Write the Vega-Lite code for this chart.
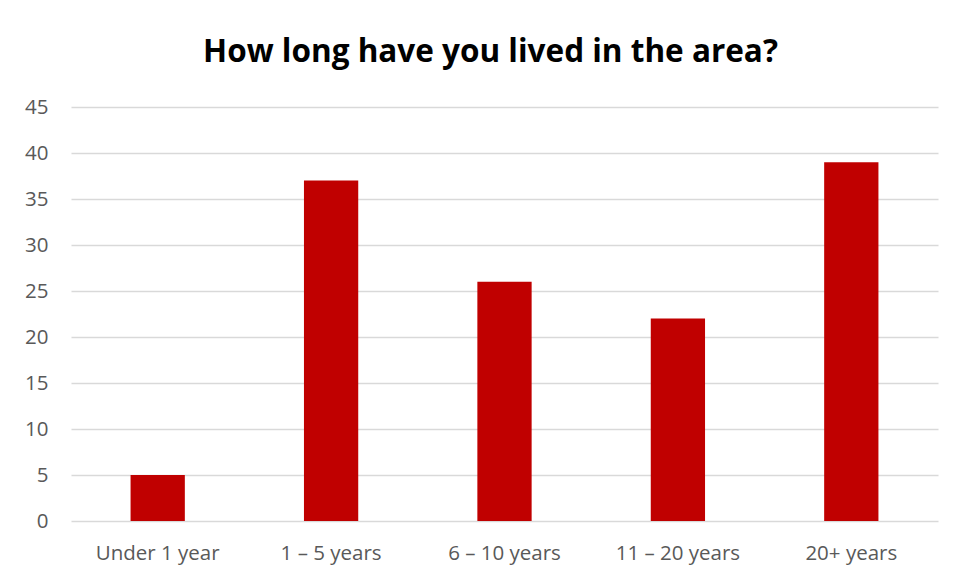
{
  "$schema": "https://vega.github.io/schema/vega-lite/v6.json",
  "width": 867,
  "height": 414,
  "autosize": "none",
  "padding": {"left": 71, "top": 107, "right": 18, "bottom": 58},
  "background": "white",
  "title": {
    "text": "How long have you lived in the area?",
    "font": "Open Sans",
    "fontSize": 31.5,
    "fontWeight": "bold",
    "color": "#000000",
    "anchor": "middle",
    "dx": -14,
    "offset": 29
  },
  "data": {
    "values": [
      {"category": "Under 1 year", "count": 5},
      {"category": "1 – 5 years", "count": 37},
      {"category": "6 – 10 years", "count": 26},
      {"category": "11 – 20 years", "count": 22},
      {"category": "20+ years", "count": 39}
    ]
  },
  "mark": {"type": "bar", "color": "#c00000"},
  "encoding": {
    "x": {
      "field": "category",
      "type": "nominal",
      "sort": null,
      "scale": {"paddingInner": 0.687, "paddingOuter": 0.3435},
      "axis": {
        "title": null,
        "labelAngle": 0,
        "labelFont": "Open Sans",
        "labelFontSize": 20.5,
        "labelColor": "#595959",
        "labelPadding": 22,
        "ticks": false,
        "domain": false
      }
    },
    "y": {
      "field": "count",
      "type": "quantitative",
      "scale": {"domain": [0, 45]},
      "axis": {
        "title": null,
        "values": [0, 5, 10, 15, 20, 25, 30, 35, 40, 45],
        "labelFont": "Open Sans",
        "labelFontSize": 20.5,
        "labelColor": "#595959",
        "labelPadding": 23,
        "ticks": false,
        "domain": false,
        "gridColor": "#d9d9d9",
        "gridWidth": 1.5
      }
    }
  },
  "config": {"view": {"stroke": null}}
}
